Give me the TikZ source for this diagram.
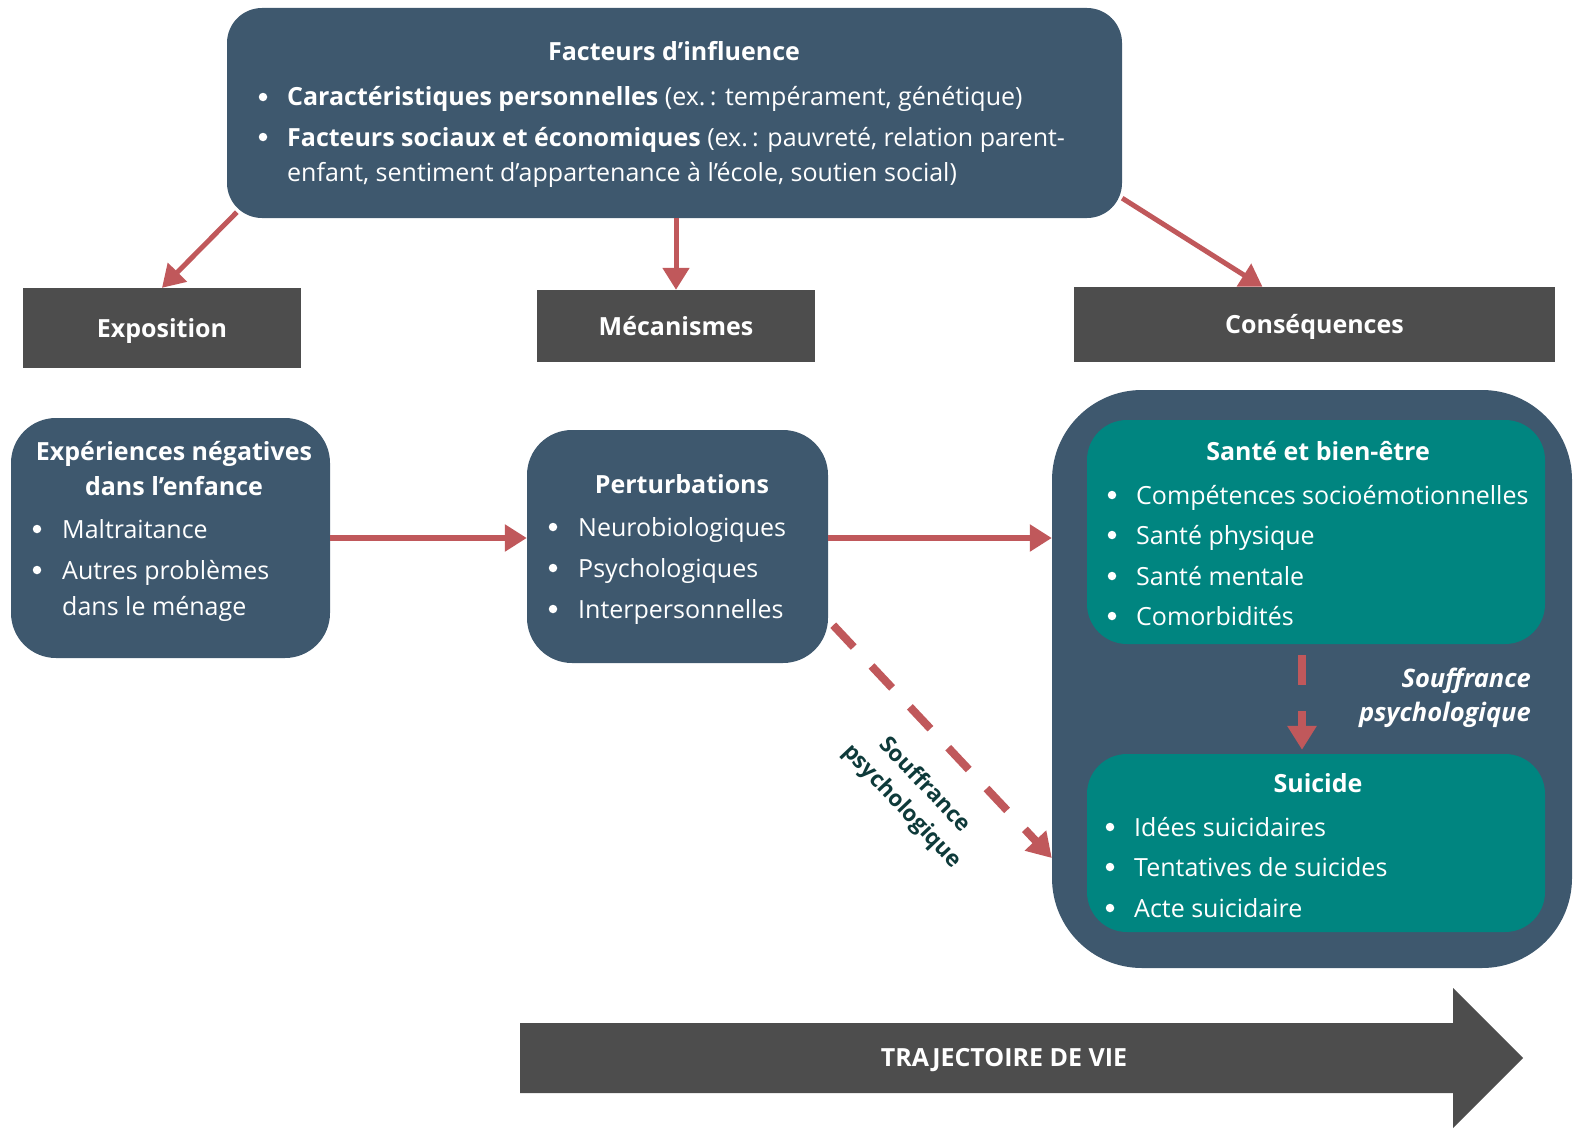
\documentclass[tikz,border=0pt]{standalone}
\usepackage{fontspec}
\setmainfont{Open Sans}
\usetikzlibrary{arrows.meta,calc,positioning}
\definecolor{ardoise}{RGB}{62,88,110}
\definecolor{sarcelle}{RGB}{0,133,128}
\definecolor{gristitre}{RGB}{77,77,77}
\definecolor{rougefl}{RGB}{192,88,91}
\definecolor{vertfonce}{RGB}{14,58,58}
\tikzset{
 tv slate/.style={rounded corners=#1,fill=ardoise,draw=none,inner sep=0pt},
 tv teal/.style={rounded corners=#1,fill=sarcelle,draw=none,inner sep=0pt},
 tv header/.style={fill=gristitre,draw=none,inner sep=0pt,text=white,
                   text height=18pt,text depth=0pt,
                   font=\fontsize{25}{30}\selectfont\bfseries},
 tv title/.style={anchor=base,text=white,inner sep=0pt,
                  font=\fontsize{25}{30}\selectfont\bfseries},
 tv item/.style={anchor=base west,text=white,inner sep=0pt,
                 font=\fontsize{25}{30}\selectfont},
 tv bullet/.style={circle,fill=white,draw=none,minimum size=8.5pt,inner sep=0pt},
 tv arrow/.style={draw=rougefl,line width=5pt,
                  -{Triangle[length=22pt,width=26pt]}},
 tv dashed arrow/.style={draw=rougefl,line width=8pt,dash pattern=on 30pt off 26pt,
                  -{Triangle[length=24pt,width=28pt]}}
}
\begin{document}
\begin{tikzpicture}[x=1pt,y=-1pt]
 \clip (0,0) rectangle (1574,1132);
 % facteurs d'influence
 \node[tv slate=35pt,minimum width=895pt,minimum height=210pt] (infl) at (674.5,113) {};
 \node[tv title] (infl-t) at (674,61) {Facteurs d’influence};
 \foreach \y in {106,146}{\node[tv bullet] (infl-b\y) at (263,{\y-9}) {};}
 \node[tv item] (infl-1) at (287,106)
   {\textbf{Caractéristiques personnelles} (ex.\,: tempérament, génétique)};
 \node[tv item] (infl-2) at (287,146)
   {\textbf{Facteurs sociaux et économiques} (ex.\,: pauvreté, relation parent-};
 \node[tv item] (infl-3) at (287,181)
   {enfant, sentiment d’appartenance à l’école, soutien social)};

 % bandeaux
 \node[tv header,minimum width=278pt,minimum height=80pt] (expo) at (162,328) {Exposition};
 \node[tv header,minimum width=278pt,minimum height=72pt] (meca) at (676,326) {Mécanismes};
 \node[tv header,minimum width=481pt,minimum height=75pt] (cons) at (1314.5,324.5) {Conséquences};

 % exposition
 \node[tv slate=45pt,minimum width=319pt,minimum height=240pt] (exp) at (170.5,538) {};
 \node[tv title] (exp-t1) at (174,460) {Expériences négatives};
 \node[tv title] (exp-t2) at (174,495) {dans l’enfance};
 \foreach \y/\t in {538/Maltraitance,579/Autres problèmes}{
   \node[tv bullet] (exp-b\y) at (37,{\y-9}) {};
   \node[tv item] (exp-\y) at (62,\y) {\t};
 }
 \node[tv item] (exp-615) at (62,615) {dans le ménage};

 % mecanismes
 \node[tv slate=45pt,minimum width=301pt,minimum height=233pt] (pert) at (677.5,546.5) {};
 \node[tv title] (pert-t) at (682,493) {Perturbations};
 \foreach \y/\t in {536/Neurobiologiques,577/Psychologiques,618/Interpersonnelles}{
   \node[tv bullet] (pert-b\y) at (553,{\y-9}) {};
   \node[tv item] (pert-\y) at (578,\y) {\t};
 }

 % consequences
 \node[tv slate=90pt,minimum width=520pt,minimum height=578pt] (csq) at (1312,679) {};
 \node[tv teal=40pt,minimum width=458pt,minimum height=224pt] (sante) at (1316,532) {};
 \node[tv title] (sante-t) at (1318,460) {Santé et bien-être};
 \foreach \y/\t in {504/Compétences socioémotionnelles,544/Santé physique,
                    585/Santé mentale,625/Comorbidités}{
   \node[tv bullet] (sante-b\y) at (1112,{\y-9}) {};
   \node[tv item] (sante-\y) at (1136,\y) {\t};
 }
 \node[tv teal=40pt,minimum width=458pt,minimum height=178pt] (suic) at (1316,843) {};
 \node[tv title] (suic-t) at (1318,792) {Suicide};
 \foreach \y/\t in {836/Idées suicidaires,876/Tentatives de suicides,917/Acte suicidaire}{
   \node[tv bullet] (suic-b\y) at (1110,{\y-9}) {};
   \node[tv item] (suic-\y) at (1134,\y) {\t};
 }
 \node[anchor=east,align=right,text=white,inner sep=0pt,
       font=\fontsize{25.5}{34}\selectfont\bfseries\itshape] (souf1) at (1531,698)
   {Souffrance\\psychologique};

 % fleches
 \coordinate (infl-sw) at ($(infl.south west)+(10,-6)$);
 \coordinate (infl-se) at ($(infl.south east)+(0,-20)$);
 \coordinate (cons-n) at ($(cons.north)+(-52,0)$);
 \draw[tv arrow] (infl-sw) -- (expo.north);
 \draw[tv arrow] (infl.south -| meca.north) -- (meca.north);
 \draw[tv arrow] (infl-se) -- (cons-n);
 \draw[tv arrow,line width=6pt] (exp.east) -- (pert.west |- exp.east);
 \draw[tv arrow,line width=6pt] (pert.east |- exp.east) -- (csq.west |- exp.east);
 \coordinate (sante-s) at ($(sante.south)+(-14,11)$);
 \coordinate (suic-n) at ($(suic.north)+(-14,-4)$);
 \draw[tv dashed arrow] (sante-s) -- (suic-n);
 \coordinate (pert-se) at ($(pert.south east)+(5,-38)$);
 \coordinate (csq-w) at (csq.west |- 0,858);
 \draw[tv dashed arrow] (pert-se) -- (csq-w);
 \node[rotate=-46.5,align=center,text=vertfonce,inner sep=0pt,
       font=\fontsize{22.5}{31}\selectfont\bfseries] (souf2) at (913,796)
   {Souffrance\\psychologique};

 % trajectoire de vie
 \fill[gristitre] (520,1023) -- (1453,1023) -- (1453,988) -- (1523,1058)
   -- (1453,1128) -- (1453,1093) -- (520,1093) -- cycle;
 \node[text=white,inner sep=0pt,font=\fontsize{25}{30}\selectfont\bfseries] (traj)
   at (1004,1060) {TRAJECTOIRE DE VIE};
\end{tikzpicture}
\end{document}
